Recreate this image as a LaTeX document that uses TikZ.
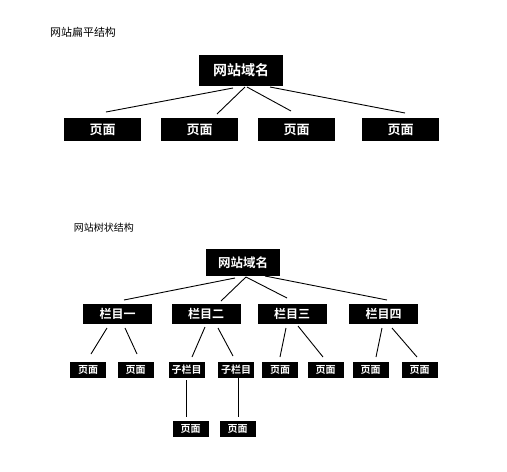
\documentclass[tikz,border=0pt]{standalone}
\usepackage{fontspec}
\newfontfamily\cjk{Noto Sans CJK SC}
\newfontfamily\cjkb{Noto Sans CJK SC Bold}
\begin{document}
\begin{tikzpicture}[x=1pt,y=-1pt,
  box/.style={fill=black,text=white,inner sep=0pt,font=\cjkb},
  big/.style={box,minimum width=84pt,minimum height=31pt,font=\cjkb\fontsize{14}{14}\selectfont},
  pg/.style={box,minimum width=77pt,minimum height=23pt,font=\cjkb\fontsize{13}{13}\selectfont},
  mid/.style={box,minimum width=69pt,minimum height=20pt,font=\cjkb\fontsize{12}{12}\selectfont},
  sm/.style={box,minimum width=36pt,minimum height=16pt,font=\cjkb\fontsize{10}{10}\selectfont},
  ttl/.style={inner sep=0pt,font=\cjk\fontsize{11}{11}\selectfont},
  ln/.style={line width=0.9pt}]
\useasboundingbox (0,0) rectangle (507,472);
% ---- flat structure ----
\node[ttl] (t1) at (83,32) {网站扁平结构};
\node[big] (r1) at (241,70.5) {网站域名};
\node[pg] (p1) at (102.5,129.5) {页面};
\node[pg] (p2) at (199.5,129.5) {页面};
\node[pg] (p3) at (296.5,129.5) {页面};
\node[pg] (p4) at (400.5,129.5) {页面};
\coordinate (a1) at (233,88); \coordinate (b1) at (106,112);
\coordinate (a2) at (245,87); \coordinate (b2) at (217,114);
\coordinate (a3) at (247,87); \coordinate (b3) at (291,111);
\coordinate (a4) at (270,87); \coordinate (b4) at (405,113);
\foreach \i in {1,...,4} \draw[ln] (a\i) -- (b\i);
% ---- tree structure ----
\node[ttl,font=\cjk\fontsize{10}{10}\selectfont] (t2) at (104,228) {网站树状结构};
\node[big,minimum width=74pt,minimum height=27pt,font=\cjkb\fontsize{12.5}{12.5}\selectfont] (r2) at (243,262.5) {网站域名};
\node[mid] (c1) at (117.5,314) {栏目一};
\node[mid] (c2) at (206,314) {栏目二};
\node[mid] (c3) at (292,314) {栏目三};
\node[mid] (c4) at (383.5,314) {栏目四};
\coordinate (d1) at (235,278); \coordinate (e1) at (124,300);
\coordinate (d2) at (246,277); \coordinate (e2) at (221,301);
\coordinate (d3) at (246,277); \coordinate (e3) at (287,298);
\coordinate (d4) at (265,276); \coordinate (e4) at (387,300);
\foreach \i in {1,...,4} \draw[ln] (d\i) -- (e\i);
\node[sm] (s1) at (88,370) {页面};
\node[sm] (s2) at (135.5,370) {页面};
\node[sm] (s3) at (186.5,370) {子栏目};
\node[sm] (s4) at (236,370) {子栏目};
\node[sm] (s5) at (280,370) {页面};
\node[sm] (s6) at (325.5,370) {页面};
\node[sm] (s7) at (370.5,370) {页面};
\node[sm] (s8) at (419.5,370) {页面};
\node[sm] (q1) at (190.5,429) {页面};
\node[sm] (q2) at (237.5,429) {页面};
\coordinate (f1) at (107,328); \coordinate (g1) at (91,354);
\coordinate (f2) at (125,328); \coordinate (g2) at (137,354);
\coordinate (f3) at (205,327); \coordinate (g3) at (192,357);
\coordinate (f4) at (218,328); \coordinate (g4) at (233,356);
\coordinate (f5) at (286,328); \coordinate (g5) at (280,357);
\coordinate (f6) at (298,326); \coordinate (g6) at (323,357);
\coordinate (f7) at (382,328); \coordinate (g7) at (376,357);
\coordinate (f8) at (392,328); \coordinate (g8) at (417,357);
\foreach \i in {1,...,8} \draw[ln] (f\i) -- (g\i);
\draw[ln] (s3.south -| 186,0) ++(0,2) coordinate (h1) -- (186,417) coordinate (k1);
\draw[ln] (s4.south -| 238,0) -- (238,417) coordinate (k2);
\end{tikzpicture}
\end{document}
